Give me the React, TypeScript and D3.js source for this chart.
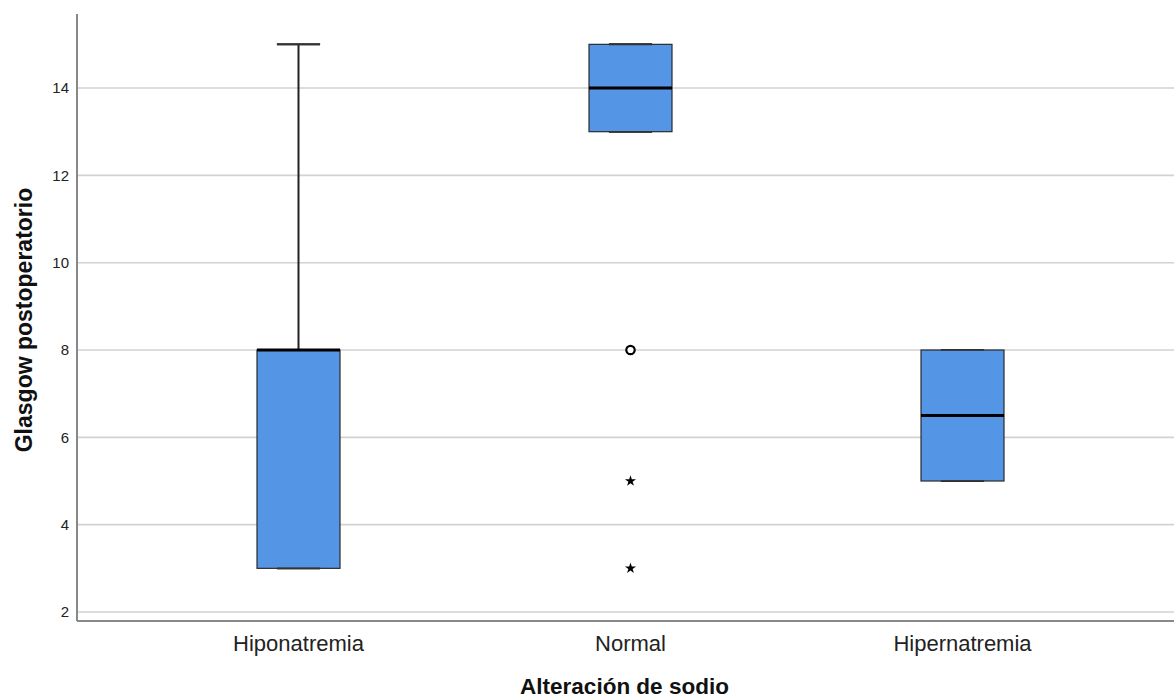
import * as d3 from "d3";
import React from "react";

// groups (Alteración de sodio)
const categories = ["Hiponatremia", "Normal", "Hipernatremia"];
// box summaries
const whiskerLow = [3, 13, 5];
const q1 = [3, 13, 5];
const median = [8, 14, 6.5];
const q3 = [8, 15, 8];
const whiskerHigh = [15, 15, 8];
// outliers: [group, value, kind]
const outlierGroup = ["Normal", "Normal", "Normal"];
const outlierValue = [8, 5, 3];
const outlierKind = ["circle", "star", "star"];
const yTicks = [2, 4, 6, 8, 10, 12, 14];

const W = 1174;
const H = 698;
const left = 77;
const right = 1174;
const top = 14;
const bottom = 621;

const App = () => {
  const x = d3.scalePoint<string>().domain(categories).range([298.5, 962.5]);
  const y = d3.scaleLinear().domain([1.794, 15.695]).range([bottom, top]);
  const step = x.step();
  const boxW = step * 0.25;
  const capW = boxW * 0.52;
  const star = d3.symbol().type(d3.symbolStar).size(38)();
  const font = "'Liberation Sans', Arial, sans-serif";

  return (
    <svg width={W} height={H} style={{ position: "absolute", left: 0, top: 0, background: "#fff" }}>
      {/* grid */}
      {yTicks.map((t) => (
        <line key={"g" + t} x1={left} x2={right} y1={y(t)} y2={y(t)} stroke="#d2d2d2" strokeWidth={1.6} />
      ))}
      {yTicks.map((t) => (
        <text key={"t" + t} x={69} y={y(t)} dy="0.36em" textAnchor="end" fontSize={15} fontFamily={font} fill="#222">
          {t}
        </text>
      ))}

      {categories.map((c, i) => {
        const cx = x(c)!;
        return (
          <g key={c}>
            {/* whiskers */}
            <line x1={cx} x2={cx} y1={y(q3[i])} y2={y(whiskerHigh[i])} stroke="#222" strokeWidth={2} />
            <line x1={cx} x2={cx} y1={y(q1[i])} y2={y(whiskerLow[i])} stroke="#222" strokeWidth={2} />
            <line x1={cx - capW / 2} x2={cx + capW / 2} y1={y(whiskerHigh[i])} y2={y(whiskerHigh[i])} stroke="#222" strokeWidth={2} />
            <line x1={cx - capW / 2} x2={cx + capW / 2} y1={y(whiskerLow[i])} y2={y(whiskerLow[i])} stroke="#222" strokeWidth={2} />
            <rect
              x={cx - boxW / 2}
              y={y(q3[i])}
              width={boxW}
              height={y(q1[i]) - y(q3[i])}
              fill="#5595E5"
              stroke="#2b2b2b"
              strokeWidth={1.2}
            />
            <line x1={cx - capW / 2} x2={cx + capW / 2} y1={y(whiskerHigh[i])} y2={y(whiskerHigh[i])} stroke="#333" strokeWidth={1.6} />
            <line x1={cx - capW / 2} x2={cx + capW / 2} y1={y(whiskerLow[i])} y2={y(whiskerLow[i])} stroke="#333" strokeWidth={1.6} />
            <line x1={cx - boxW / 2} x2={cx + boxW / 2} y1={y(median[i])} y2={y(median[i])} stroke="#000" strokeWidth={3} />
            <text x={cx} y={651} textAnchor="middle" fontSize={22} fontFamily={font} fill="#222">
              {c}
            </text>
          </g>
        );
      })}

      {outlierValue.map((v, k) => {
        const cx = x(outlierGroup[k])!;
        return outlierKind[k] === "circle" ? (
          <circle key={"o" + k} cx={cx} cy={y(v)} r={4.2} fill="#fff" stroke="#000" strokeWidth={2.2} />
        ) : (
          <path key={"o" + k} d={star as string} transform={`translate(${cx},${y(v)})`} fill="#000" />
        );
      })}

      {/* axes */}
      <line x1={left} x2={left} y1={top} y2={bottom} stroke="#888" strokeWidth={2} />
      <line x1={left} x2={right} y1={bottom} y2={bottom} stroke="#888" strokeWidth={2} />

      <text x={(left + right) / 2 - 1} y={694} textAnchor="middle" fontSize={22.5} fontWeight="bold" fontFamily={font} fill="#111">
        Alteración de sodio
      </text>
      <text
        transform={`translate(32,${320}) rotate(-90)`}
        textAnchor="middle"
        fontSize={23}
        fontWeight="bold"
        fontFamily={font}
        fill="#111"
      >
        Glasgow postoperatorio
      </text>
    </svg>
  );
};

export default App;
